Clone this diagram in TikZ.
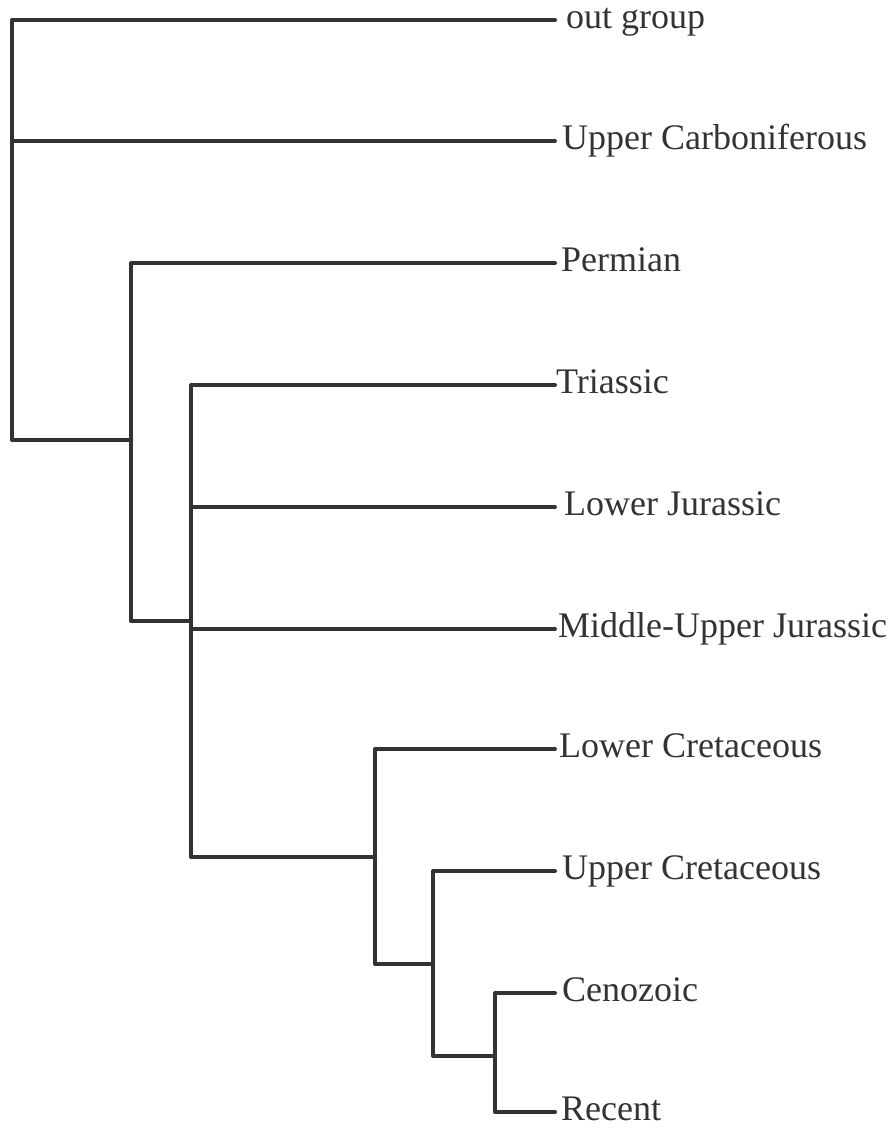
\documentclass[tikz,border=0pt]{standalone}
\usepackage{fontspec}
\setmainfont{Liberation Serif}
\definecolor{treegray}{HTML}{333333}
\begin{document}
\begin{tikzpicture}[x=1pt,y=-1pt,line cap=round,line join=round,
	branch/.style={draw=treegray,line width=4pt},
	taxon/.style={anchor=base west,inner sep=0pt,text=treegray,font=\fontsize{36}{40}\selectfont}]
	\useasboundingbox (0,0) rectangle (896,1130);
	% leaf tips
	\coordinate (og) at (555,20);
	\coordinate (uc) at (555,141);
	\coordinate (pe) at (555,263);
	\coordinate (tr) at (555,385);
	\coordinate (lj) at (555,507);
	\coordinate (mj) at (555,629);
	\coordinate (lc) at (555,749);
	\coordinate (uk) at (555,871);
	\coordinate (ce) at (555,993);
	\coordinate (re) at (555,1112);
	% internal nodes
	\coordinate (c0) at (12,440);   \coordinate (c1) at (131,440);
	\coordinate (c2) at (131,621);  \coordinate (c3) at (191,621);
	\coordinate (c4) at (191,857);  \coordinate (c5) at (375,857);
	\coordinate (c6) at (375,964);  \coordinate (c7) at (433,964);
	\coordinate (c8) at (433,1056); \coordinate (c9) at (495,1056);
	\coordinate (c10) at (495,1112);
	% branches
	\draw[branch] (og) -| (c0) -- (c1);
	\draw[branch] (uc) -- (uc -| c0);
	\draw[branch] (pe) -| (c2) -- (c3);
	\draw[branch] (tr) -| (c4) -- (c5);
	\draw[branch] (lj) -- (lj -| c4);
	\draw[branch] (mj) -- (mj -| c4);
	\draw[branch] (lc) -| (c6) -- (c7);
	\draw[branch] (uk) -| (c8) -- (c9);
	\draw[branch] (ce) -| (c10) -- (re);
	% taxa
	\node[taxon] (tog) at ([shift={(11,8)}]og) {out group};
	\node[taxon] (tuc) at ([shift={(7,8)}]uc) {Upper Carboniferous};
	\node[taxon] (tpe) at ([shift={(6,8)}]pe) {Permian};
	\node[taxon] (ttr) at ([shift={(1,8)}]tr) {Triassic};
	\node[taxon] (tlj) at ([shift={(9,8)}]lj) {Lower Jurassic};
	\node[taxon] (tmj) at ([shift={(3,8)}]mj) {Middle-Upper Jurassic};
	\node[taxon] (tlc) at ([shift={(4,8)}]lc) {Lower Cretaceous};
	\node[taxon] (tuk) at ([shift={(7,8)}]uk) {Upper Cretaceous};
	\node[taxon] (tce) at ([shift={(7,8)}]ce) {Cenozoic};
	\node[taxon] (tre) at ([shift={(6,8)}]re) {Recent};
\end{tikzpicture}
\end{document}
